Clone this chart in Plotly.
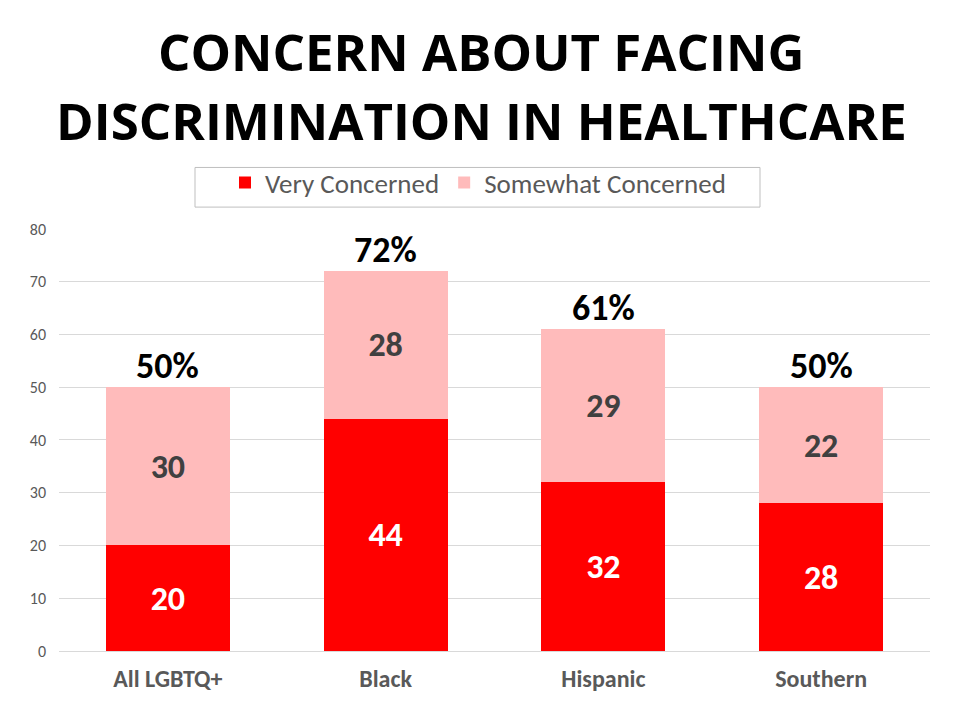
import plotly.graph_objects as go

categories = ["All LGBTQ+", "Black", "Hispanic", "Southern"]
very_concerned = [20, 44, 32, 28]
somewhat_concerned = [30, 28, 29, 22]
totals = [50, 72, 61, 50]
y_ticks = [0, 10, 20, 30, 40, 50, 60, 70, 80]
title_lines = ["CONCERN ABOUT FACING", "DISCRIMINATION IN HEALTHCARE"]

FONT = "Carlito, Lato, sans-serif"
TITLE_FONT = "Open Sans, sans-serif"

# plot area in pixels (for converting layout positions)
L, R, T, B = 59, 30, 225, 69
W, H = 960, 720
PW, PH = W - L - R, H - T - B


def px_x(x):
    return (x - L) / PW


def px_y(y):
    return (H - B - y) / PH


fig = go.Figure()
fig.add_trace(go.Bar(
    name="Very Concerned", x=categories, y=very_concerned,
    marker=dict(color="#FF0000", line=dict(width=0)),
    text=very_concerned, textposition="inside", insidetextanchor="middle",
    textfont=dict(family=FONT, size=34, color="white", weight="bold"),
))
fig.add_trace(go.Bar(
    name="Somewhat Concerned", x=categories, y=somewhat_concerned,
    marker=dict(color="#FFBBBB", line=dict(width=0)),
    text=somewhat_concerned, textposition="inside", insidetextanchor="middle",
    textfont=dict(family=FONT, size=34, color="#404040", weight="bold"),
))

for c, t in zip(categories, totals):
    fig.add_annotation(x=c, y=t, text=f"{t}%", showarrow=False, yanchor="bottom",
                       yshift=-3, font=dict(family=FONT, size=36, color="black", weight="bold"))

for line, ypos in zip(title_lines, [45, 115]):
    fig.add_annotation(xref="paper", yref="paper", x=px_x(481), y=px_y(ypos), text=line,
                       showarrow=False, xanchor="center", yanchor="middle",
                       font=dict(family=TITLE_FONT, size=51, color="black", weight="bold"))

# legend frame
fig.add_shape(type="rect", xref="paper", yref="paper",
              x0=px_x(195), x1=px_x(760), y0=px_y(203), y1=px_y(163),
              line=dict(color="#BFBFBF", width=1), fillcolor="rgba(0,0,0,0)")

fig.update_layout(
    barmode="stack",
    bargap=0.43,
    width=W, height=H,
    margin=dict(l=L, r=R, t=T, b=B),
    paper_bgcolor="white", plot_bgcolor="white",
    legend=dict(orientation="h", xref="container", yref="container",
                x=478 / W, xanchor="center", y=1 - 183 / H, yanchor="middle",
                borderwidth=0, bgcolor="rgba(0,0,0,0)",
                font=dict(family=FONT, size=27, color="#595959"),
                traceorder="normal"),
    showlegend=True,
)
fig.update_yaxes(range=[0, 80], tickvals=y_ticks, showgrid=True, gridcolor="#D9D9D9",
                 zeroline=False, showline=False, ticks="", ticklabelstandoff=12,
                 tickfont=dict(family=FONT, size=16, color="#595959"))
fig.update_xaxes(showline=True, linecolor="#D9D9D9", ticks="", ticklabelstandoff=6,
                 tickfont=dict(family=FONT, size=24, color="#595959", weight="bold"))

fig.write_html("out.html", config={"displayModeBar": False},
               post_script="document.body.style.margin='0';")
